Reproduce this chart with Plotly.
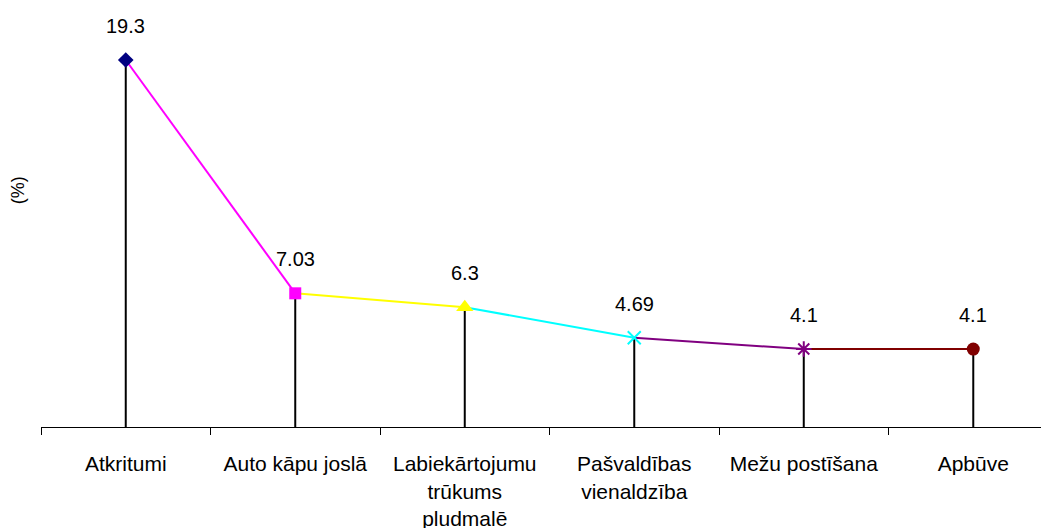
import plotly.graph_objects as go

categories = ["Atkritumi", "Auto kāpu joslā", "Labiekārtojumu<br>trūkums<br>pludmalē",
              "Pašvaldības<br>vienaldzība", "Mežu postīšana", "Apbūve"]
values = [19.3, 7.03, 6.3, 4.69, 4.1, 4.1]
value_labels = ["19.3", "7.03", "6.3", "4.69", "4.1", "4.1"]
colors = ["#000080", "#FF00FF", "#FFFF00", "#00FFFF", "#800080", "#800000"]
symbols = ["diamond", "square", "triangle-up", "x-thin", "asterisk-open", "circle"]
marker_sizes = [12, 12, 15, 13, 13, 13]

FONT = "Liberation Sans, Arial, sans-serif"
fig = go.Figure()

# drop lines
fig.add_trace(go.Scatter(
    x=categories, y=values, mode="markers", marker=dict(size=1, opacity=0),
    error_y=dict(type="data", symmetric=False, array=[0] * len(values), arrayminus=values,
                 width=0, thickness=2, color="black"),
    hoverinfo="skip", showlegend=False))

# segments coloured by destination point
for i in range(len(values) - 1):
    fig.add_trace(go.Scatter(
        x=[categories[i], categories[i + 1]], y=[values[i], values[i + 1]],
        mode="lines", line=dict(color=colors[i + 1], width=2), showlegend=False))

# markers
for i in range(len(values)):
    fig.add_trace(go.Scatter(
        x=[categories[i]], y=[values[i]], mode="markers",
        marker=dict(symbol=symbols[i], color=colors[i], size=marker_sizes[i],
                    line=dict(color=colors[i], width=2 if symbols[i] in ("x-thin", "asterisk-open") else 0)),
        showlegend=False))

for c, v, t in zip(categories, values, value_labels):
    fig.add_annotation(x=c, y=v, text=t, showarrow=False, yshift=34,
                       font=dict(family=FONT, size=20, color="black"))

fig.add_annotation(xref="paper", yref="paper", x=-0.0226, y=0.568, text="(%)",
                   xanchor="center", yanchor="middle",
                   textangle=-90, showarrow=False, font=dict(family=FONT, size=18, color="black"))

fig.update_layout(
    width=1049, height=528, paper_bgcolor="white", plot_bgcolor="white",
    margin=dict(l=33, r=0, t=2, b=109),
    font=dict(family=FONT, size=20, color="black"),
    xaxis=dict(type="category", range=[-0.5, 5.494], showline=True, linecolor="black", linewidth=1,
               ticks="outside", tickson="boundaries", ticklen=7, tickcolor="black", tickwidth=1,
               showgrid=False, zeroline=False, ticklabelstandoff=18, automargin=False,
               tickfont=dict(family=FONT, size=21, color="black")),
    yaxis=dict(range=[0, 21.93], visible=False, showgrid=False, zeroline=False, automargin=False),
)

fig.write_html("out.html")
